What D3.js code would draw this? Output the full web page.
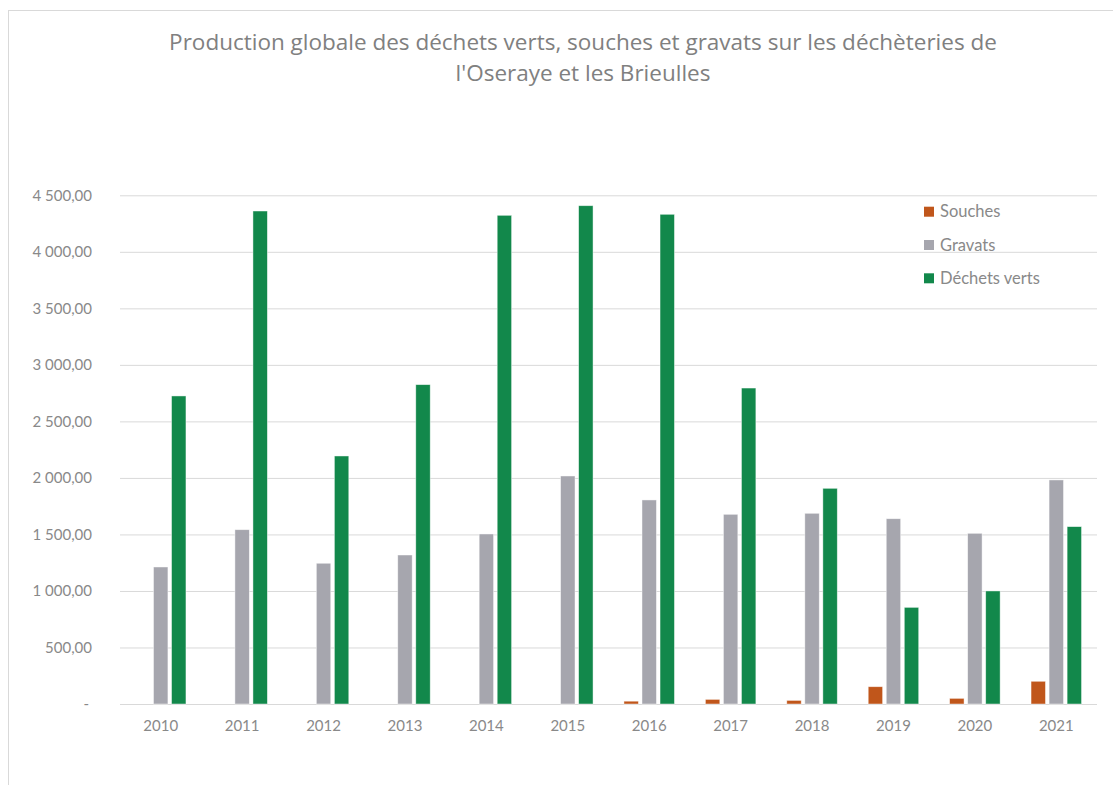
<!DOCTYPE html>
<html>
<meta charset="utf-8">

<style>
body{
	margin:0;
	padding:0;
	background:#fff;
}
svg text{
	font-family: Lato, "Open Sans", sans-serif;
	fill:#898989;
}
.title{
	font-family: "Open Sans", sans-serif;
	font-size:22.5px;
	fill:#808080;
	text-anchor:middle;
}
.axis text{
	font-size:15px;
}
.grid line{
	stroke:#d9d9d9;
	stroke-width:1;
}
.legend text{
	font-size:16.5px;
}
</style>

<body>
	<svg width="1113" height="785"></svg>
	<script src="https://d3js.org/d3.v7.min.js"></script>

<script>

// data
var years = ["2010", "2011", "2012", "2013", "2014", "2015", "2016", "2017", "2018", "2019", "2020", "2021"];
var souches = [0, 0, 0, 0, 0, 0, 25, 41, 32, 153, 50, 201];
var gravats = [1212, 1542, 1245, 1318, 1504, 2017, 1805, 1678, 1687, 1639, 1510, 1982];
var dechetsVerts = [2725, 4361, 2194, 2825, 4323, 4408, 4332, 2795, 1908, 855, 1000, 1569];
var seriesNames = ["Souches", "Gravats", "Déchets verts"];
var yTicks = [0, 500, 1000, 1500, 2000, 2500, 3000, 3500, 4000, 4500];
var titleLines = ["Production globale des déchets verts, souches et gravats sur les déchèteries de",
                  "l'Oseraye et les Brieulles"];

var seriesValues = [souches, gravats, dechetsVerts];
var colors = ["#c0561b", "#a6a6ae", "#12884b"];

var svg = d3.select("svg"),
    plotLeft = 120, plotRight = 1097, plotTop = 195.3, plotBottom = 704;

// chart frame
svg.append("rect")
    .attr("x", 8.5).attr("y", 10.5)
    .attr("width", 1200).attr("height", 900)
    .attr("fill", "none")
    .attr("stroke", "#d9d9d9");

svg.selectAll(".title")
    .data(titleLines)
  .enter().append("text")
    .attr("class", "title")
    .attr("x", 583)
    .attr("y", function(d, i) { return 50 + i * 31; })
    .text(function(d) { return d; });

var x0 = d3.scaleBand()
    .domain(years)
    .range([plotLeft, plotRight]);

var groupW = 50.5;
var x1 = d3.scaleBand()
    .domain(seriesNames)
    .range([(x0.bandwidth() - groupW) / 2, (x0.bandwidth() + groupW) / 2])
    .paddingInner(0.2);

var y = d3.scaleLinear()
    .domain([0, 4500])
    .range([plotBottom, plotTop]);

var fr = d3.formatLocale({decimal: ",", thousands: " ", grouping: [3]}).format(",.2f");

// gridlines
svg.append("g")
    .attr("class", "grid")
    .attr("transform", "translate(" + plotLeft + ",0)")
    .call(d3.axisLeft(y).tickValues(yTicks).tickSize(-(plotRight - plotLeft)).tickFormat(""))
    .call(function(g) { g.select(".domain").remove(); });

// y axis labels
svg.append("g")
    .attr("class", "axis")
    .attr("transform", "translate(" + plotLeft + ",0)")
    .call(d3.axisLeft(y).tickValues(yTicks).tickSize(0).tickPadding(28)
        .tickFormat(function(d) { return d === 0 ? "-" : fr(d); }))
    .call(function(g) {
        g.select(".domain").remove();
        g.selectAll("text").attr("fill", "#898989")
         .filter(function(d) { return d === 0; }).attr("dx", "-3");
    });

// x axis labels
svg.append("g")
    .attr("class", "axis")
    .attr("transform", "translate(0," + plotBottom + ")")
    .call(d3.axisBottom(x0).tickSize(0).tickPadding(16))
    .call(function(g) {
        g.select(".domain").remove();
        g.selectAll("text").attr("fill", "#898989");
    });

// bars
var groups = svg.selectAll(".year")
    .data(years)
  .enter().append("g")
    .attr("class", "year")
    .attr("transform", function(d) { return "translate(" + x0(d) + ",0)"; });

groups.selectAll("rect")
    .data(function(d, i) {
        return seriesNames.map(function(s, j) { return {name: s, value: seriesValues[j][i], color: colors[j]}; });
    })
  .enter().append("rect")
    .filter(function(d) { return d.value > 0; })
    .attr("x", function(d) { return x1(d.name); })
    .attr("width", x1.bandwidth())
    .attr("y", function(d) { return y(d.value); })
    .attr("height", function(d) { return plotBottom - y(d.value); })
    .attr("fill", function(d) { return d.color; })
    .attr("stroke", "#ffffff")
    .attr("stroke-opacity", 0.6)
    .attr("stroke-width", 0.75);

// legend
var legend = svg.append("g")
    .attr("class", "legend")
    .selectAll("g")
    .data(seriesNames)
  .enter().append("g")
    .attr("transform", function(d, i) { return "translate(924," + (211.7 + i * 33.3) + ")"; });

legend.append("rect")
    .attr("x", 0).attr("y", -5)
    .attr("width", 10).attr("height", 10)
    .attr("fill", function(d, i) { return colors[i]; });

legend.append("text")
    .attr("x", 16)
    .attr("dy", "0.35em")
    .text(function(d) { return d; });

</script>
</body>
</html>
